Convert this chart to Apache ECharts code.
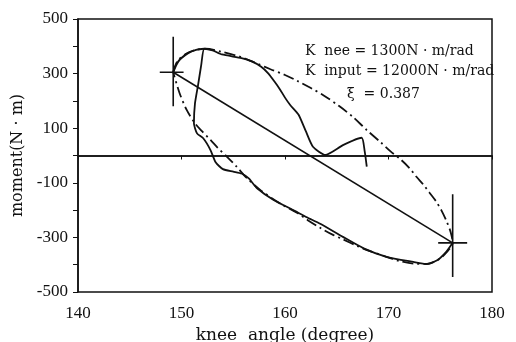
<!DOCTYPE html>
<html>
<head>
<meta charset="utf-8">
<script src="https://cdn.jsdelivr.net/npm/echarts@6/dist/echarts.min.js"></script>
<style>
  html, body { margin: 0; padding: 0; background: #fff; }
  #chart { width: 516px; height: 342px; }
</style>
</head>
<body>
<div id="chart"></div>
<script>
// axis ranges
var xMin = 140, xMax = 180, xStep = 10;
var yMin = -500, yMax = 500, yStep = 100;

// straight line joining the two turning points
var straightLine = [[149.2, 305], [176.2, -320]];

// model response (dash-dot ellipse)
var modelLoop = [
  [149.2, 305], [149.6, 345], [150.4, 372], [151.3, 386], [152.3, 391], [153.9, 380],
  [155.8, 360], [157.4, 335], [158.6, 316], [160.0, 295], [161.2, 273], [162.5, 247],
  [163.7, 221], [165.2, 182], [166.6, 140], [167.9, 93], [169.2, 50], [170.2, 15],
  [171.1, -12], [172.0, -45], [172.7, -78], [173.4, -108], [174.0, -138], [174.6, -168],
  [175.1, -200], [175.6, -240], [176.0, -280], [176.2, -320], [175.6, -355], [174.8, -382],
  [173.7, -397], [172.4, -396], [171.0, -386], [169.8, -371], [168.2, -350], [167.0, -332],
  [165.6, -307], [164.6, -290], [163.4, -265], [162.2, -237], [161.2, -211], [159.5, -175],
  [157.6, -126], [156.3, -82], [155.3, -40], [154.4, -5], [153.5, 28], [152.8, 57],
  [152.0, 88], [151.3, 118], [150.5, 167], [149.8, 230], [149.2, 305]
];

// measured response (solid)
var measuredLoop = [
  [167.9, -41], [167.7, 15], [167.4, 65], [165.6, 38], [163.9, 2], [162.7, 32],
  [162.0, 90], [161.3, 150], [160.5, 185], [160.0, 212], [159.5, 243], [159.0, 270],
  [158.4, 300], [157.7, 325], [156.8, 345], [155.8, 357], [153.9, 370], [153.0, 385],
  [152.2, 391], [151.9, 330], [151.6, 258], [151.3, 190], [151.2, 118], [151.5, 81],
  [152.1, 63], [152.8, 20], [153.3, -25], [154.0, -50], [155.0, -59], [155.8, -66],
  [156.5, -84], [157.3, -120], [158.9, -163], [160.8, -200], [162.1, -226], [163.4, -250],
  [165.6, -298], [167.6, -340], [169.8, -371], [172.4, -390], [173.7, -398], [174.7, -384],
  [175.6, -352], [176.2, -320]
];
var measuredArc = [[149.2, 305], [149.7, 345], [150.6, 374], [151.4, 387], [152.2, 391]];

// cross marks at the turning points
var cross1V = [[149.2, 435], [149.2, 180]];
var cross1H = [[147.9, 305], [150.2, 305]];
var cross2V = [[176.2, -142], [176.2, -445]];
var cross2H = [[174.8, -320], [177.6, -320]];

var notes = ['K  nee = 1300N · m/rad', 'K  input = 12000N · m/rad', 'ξ  = 0.387'];

var ink = '#111';
var serif = '"Liberation Serif", "Times New Roman", serif';
var textFont = '"DejaVu Serif", serif';

function seg(name, data, width, type, smooth) {
  return {
    name: name,
    type: 'line',
    data: data,
    symbol: 'none',
    smooth: smooth || false,
    silent: true,
    lineStyle: { color: ink, width: width, type: type || 'solid' }
  };
}

var series = [
  seg('model', modelLoop, 1.8, [11, 4, 2, 4], 0.3),
  seg('measured', measuredLoop, 1.8, 'solid', 0.2),
  seg('arc', measuredArc, 2, 'solid', 0.3),
  seg('straight', straightLine, 1.6),
  seg('c1v', cross1V, 1.6),
  seg('c1h', cross1H, 1.6),
  seg('c2v', cross2V, 1.6),
  seg('c2h', cross2H, 1.6)
];
series[3].markLine = {
  silent: true,
  symbol: ['none', 'none'],
  label: { show: false },
  lineStyle: { color: ink, width: 1.6, type: 'solid' },
  data: [{ yAxis: 0 }]
};

var chart = echarts.init(document.getElementById('chart'));
chart.setOption({
  animation: false,
  backgroundColor: '#fff',
  grid: {
    left: 78, right: 24, top: 19, bottom: 50,
    outerBoundsMode: 'none',
    containLabel: false,
    show: true, borderColor: ink, borderWidth: 1.5
  },
  xAxis: {
    type: 'value',
    min: xMin, max: xMax, interval: xStep,
    name: 'knee  angle (degree)',
    nameLocation: 'middle',
    nameGap: 33,
    nameTextStyle: { color: ink, fontFamily: textFont, fontSize: 17 },
    axisLine: { lineStyle: { color: ink, width: 1.5 } },
    axisTick: { lineStyle: { color: ink }, length: 4 },
    axisLabel: { color: ink, fontFamily: serif, fontSize: 17, margin: 13 },
    splitLine: { show: false }
  },
  yAxis: {
    type: 'value',
    min: yMin, max: yMax, interval: yStep,
    name: 'moment(N · m)',
    nameLocation: 'middle',
    nameGap: 52,
    nameTextStyle: { color: ink, fontFamily: textFont, fontSize: 16 },
    axisLine: { lineStyle: { color: ink, width: 1.5 } },
    axisTick: { lineStyle: { color: ink }, length: 5 },
    axisLabel: {
      color: ink, fontFamily: serif, fontSize: 17, margin: 10,
      formatter: function (v) { return Math.abs(v / 100) % 2 === 1 ? v : ''; }
    },
    splitLine: { show: false }
  },
  graphic: [
    { type: 'text', left: 305, top: 44, style: { text: notes[0], font: '14px ' + textFont, fill: ink } },
    { type: 'text', left: 305, top: 64, style: { text: notes[1], font: '14px ' + textFont, fill: ink } },
    { type: 'text', left: 347, top: 87, style: { text: notes[2], font: '14px ' + textFont, fill: ink } }
  ],
  series: series
});
</script>
</body>
</html>
